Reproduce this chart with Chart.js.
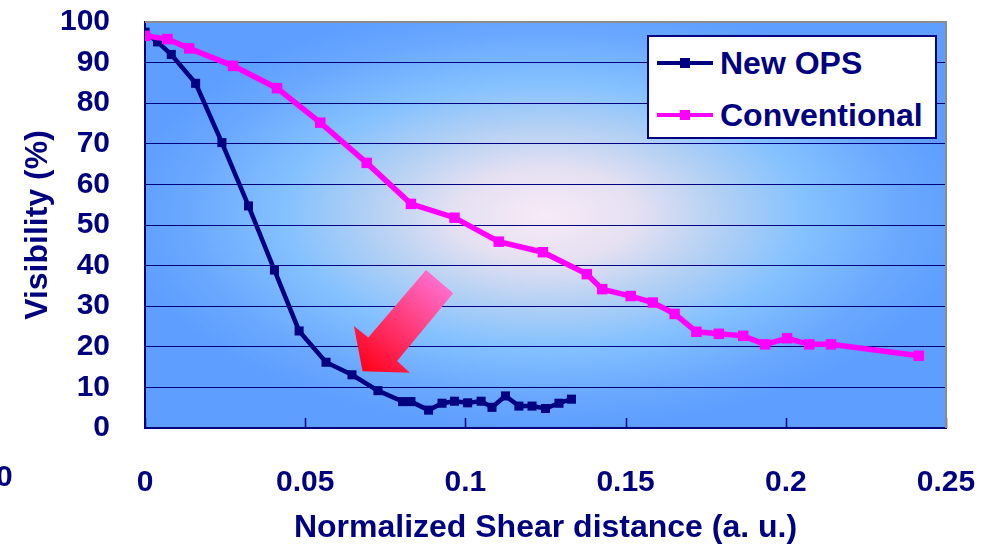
<!DOCTYPE html>
<html>
<head>
<meta charset="utf-8">
<script src="https://cdn.jsdelivr.net/npm/chart.js@4.4.1/dist/chart.umd.min.js"></script>
<style>
  html, body { margin: 0; padding: 0; background: #fff; }
  #wrap { position: relative; width: 995px; height: 545px; }
  #legend {
    position: absolute; left: 647px; top: 35px; width: 286px; height: 100px;
    background: #fff; border: 2px solid #000080;
    font: bold 32px 'Liberation Sans', Arial, sans-serif; color: #000080;
  }
  .item { position: absolute; left: 8px; height: 36px; display: flex; align-items: center; white-space: nowrap; }
  .sw { position: relative; width: 56px; height: 10px; margin-right: 7px; }
  .sw .ln { position: absolute; left: 0; right: 0; top: 3px; height: 4px; }
  .sw .mk { position: absolute; left: 23px; top: 0; width: 10px; height: 10px; }
  .stray { position: absolute; left: -4px; top: 459px; line-height: 30px; font: bold 30px 'Liberation Sans', Arial, sans-serif; color: #000080; }
</style>
</head>
<body>
<div id="wrap">
  <canvas id="chart" width="995" height="545"></canvas>
  <div class="stray">0</div>
  <div id="legend"></div>
</div>
<script>
// data
const newOpsX = [0, 0.0039, 0.0082, 0.0158, 0.024, 0.0323, 0.0404, 0.0481, 0.0565, 0.0646, 0.0727, 0.0804, 0.083,
  0.0885, 0.0927, 0.0966, 0.1007, 0.1049, 0.1083, 0.1125, 0.1167, 0.1208, 0.125, 0.1292, 0.1331];
const newOpsY = [97.5, 95.1, 92.0, 84.9, 70.3, 54.7, 38.9, 23.9, 16.2, 13.1, 9.2, 6.5, 6.5,
  4.4, 6.1, 6.6, 6.2, 6.6, 5.1, 7.9, 5.4, 5.4, 4.8, 6.1, 7.1];

const convX = [0, 0.007, 0.0138, 0.0275, 0.0412, 0.0547, 0.0692, 0.083, 0.0966, 0.1104, 0.1242, 0.1379,
  0.1427, 0.1516, 0.1585, 0.1653, 0.1721, 0.1791, 0.1867, 0.1935, 0.2004, 0.2073, 0.2141, 0.2415];
const convY = [96.6, 95.8, 93.5, 89.2, 83.7, 75.2, 65.3, 55.2, 51.8, 45.9, 43.3, 37.9,
  34.2, 32.5, 30.9, 28.1, 23.7, 23.2, 22.7, 20.6, 22.1, 20.6, 20.6, 17.8];

const seriesNames = ['New OPS', 'Conventional'];

const xTickValues = [0, 0.05, 0.1, 0.15, 0.2, 0.25];
const xTickLabels = ['0', '0.05', '0.1', '0.15', '0.2', '0.25'];
const yTickValues = [0, 10, 20, 30, 40, 50, 60, 70, 80, 90, 100];
const yTickLabels = ['0', '10', '20', '30', '40', '50', '60', '70', '80', '90', '100'];

// the big arrow pointing at the New OPS curve (data units)
const arrowX = [0.0877, 0.0962, 0.0787, 0.0827, 0.0679, 0.0652, 0.0697];
const arrowY = [38.9, 33.2, 16.5, 13.6, 14.0, 25.1, 22.3];

const NAVY = '#000080';
const PINK = '#ff00ff';
const FONT = "'Liberation Sans', Arial, sans-serif";

function toPoints(xs, ys) {
  return xs.map((x, i) => ({ x: x, y: ys[i] }));
}

// legend box (drawn as html, sits inside the plot)
const legendColors = [NAVY, PINK];
let legendHtml = '';
seriesNames.forEach((name, i) => {
  legendHtml += `<div class="item" style="top:${8 + i * 52}px">
      <div class="sw"><div class="ln" style="background:${legendColors[i]}"></div>
      <div class="mk" style="background:${legendColors[i]}"></div></div>${name}</div>`;
});
document.getElementById('legend').innerHTML = legendHtml;

const plotDecor = {
  id: 'plotDecor',
  beforeDraw(chart) {
    const { ctx, chartArea: a } = chart;
    const cx = (a.left + a.right) / 2, cy = (a.top + a.bottom) / 2 - 10;
    ctx.save();
    ctx.beginPath();
    ctx.rect(a.left, a.top, a.right - a.left, a.bottom - a.top);
    ctx.clip();
    ctx.translate(cx, cy);
    ctx.scale((a.right - a.left) / 2, (a.bottom - a.top) / 2);
    const g = ctx.createRadialGradient(0, 0, 0, 0, 0, 1.05);
    g.addColorStop(0, '#f8eaf7');
    g.addColorStop(0.22, '#e4e0f2');
    g.addColorStop(0.42, '#b2d0f4');
    g.addColorStop(0.62, '#84c1ff');
    g.addColorStop(0.85, '#6aa8ff');
    g.addColorStop(1, '#5e9eff');
    ctx.fillStyle = g;
    ctx.fillRect(-1.1, -1.3, 2.2, 2.6);
    ctx.restore();
  },
  beforeDatasetsDraw(chart) {
    const { ctx, chartArea: a, scales } = chart;
    ctx.save();
    ctx.strokeStyle = NAVY;
    ctx.lineWidth = 1.5;
    xTickValues.forEach(v => {
      const px = Math.round(scales.x.getPixelForValue(v)) + 0.5;
      ctx.beginPath();
      ctx.moveTo(px, a.bottom);
      ctx.lineTo(px, a.bottom - 10);
      ctx.stroke();
    });
    ctx.restore();
  },
  afterDatasetsDraw(chart) {
    const { ctx, chartArea: a, scales } = chart;
    ctx.save();
    const px = arrowX.map(v => scales.x.getPixelForValue(v));
    const py = arrowY.map(v => scales.y.getPixelForValue(v));
    const g = ctx.createLinearGradient((px[0] + px[1]) / 2, (py[0] + py[1]) / 2, px[4], py[4]);
    g.addColorStop(0, '#ff6ccc');
    g.addColorStop(1, '#ff0018');
    ctx.fillStyle = g;
    ctx.beginPath();
    px.forEach((x, i) => (i ? ctx.lineTo(x, py[i]) : ctx.moveTo(x, py[i])));
    ctx.closePath();
    ctx.fill();

    // grey frame on top and right
    ctx.strokeStyle = '#8c8c8c';
    ctx.lineWidth = 2;
    ctx.beginPath();
    ctx.moveTo(a.left, a.top);
    ctx.lineTo(a.right, a.top);
    ctx.lineTo(a.right, a.bottom);
    ctx.stroke();
    ctx.restore();
  }
};

new Chart(document.getElementById('chart').getContext('2d'), {
  type: 'scatter',
  data: {
    datasets: [{
      label: seriesNames[0],
      data: toPoints(newOpsX, newOpsY),
      showLine: true,
      borderColor: NAVY,
      backgroundColor: NAVY,
      borderWidth: 4.5,
      pointStyle: 'rect',
      pointRadius: 6.4,
      pointBorderWidth: 0,
      tension: 0,
      order: 2
    }, {
      label: seriesNames[1],
      data: toPoints(convX, convY),
      showLine: true,
      borderColor: PINK,
      backgroundColor: PINK,
      borderWidth: 5.5,
      pointStyle: 'rect',
      pointRadius: 7.4,
      pointBorderWidth: 0,
      tension: 0,
      order: 1
    }]
  },
  options: {
    responsive: false,
    animation: false,
    events: [],
    layout: { padding: { left: 0, top: 22, right: 49, bottom: 0 } },
    plugins: { legend: { display: false }, tooltip: { enabled: false } },
    scales: {
      x: {
        type: 'linear',
        min: 0,
        max: 0.25,
        afterBuildTicks: s => { s.ticks = xTickValues.map(v => ({ value: v })); },
        afterFit: s => { s.height = 117; },
        ticks: {
          callback: (v, i) => xTickLabels[i],
          autoSkip: false,
          maxRotation: 0,
          padding: 0,
          color: NAVY,
          font: { family: FONT, size: 30, weight: 'bold' }
        },
        grid: { display: true, drawOnChartArea: false, drawTicks: true, tickLength: 37, tickColor: 'transparent', color: 'transparent' },
        border: { display: true, color: NAVY, width: 2 },
        title: {
          display: true,
          text: 'Normalized Shear distance (a. u.)',
          color: NAVY,
          padding: { top: 0, bottom: 0 },
          font: { family: FONT, size: 32, weight: 'bold', lineHeight: 1.05 }
        }
      },
      y: {
        min: 0,
        max: 100,
        afterBuildTicks: s => { s.ticks = yTickValues.map(v => ({ value: v })); },
        afterFit: s => { s.width = 145; },
        ticks: {
          callback: (v, i) => yTickLabels[i],
          autoSkip: false,
          padding: 0,
          color: NAVY,
          font: { family: FONT, size: 30, weight: 'bold' }
        },
        grid: { color: NAVY, lineWidth: 1, drawTicks: true, tickLength: 35, tickColor: 'transparent' },
        border: { display: true, color: NAVY, width: 2 },
        title: {
          display: true,
          text: 'Visibility (%)',
          color: NAVY,
          padding: { top: 19, bottom: 0 },
          font: { family: FONT, size: 32, weight: 'bold', lineHeight: 1.2 }
        }
      }
    }
  },
  plugins: [plotDecor]
});
</script>
</body>
</html>
